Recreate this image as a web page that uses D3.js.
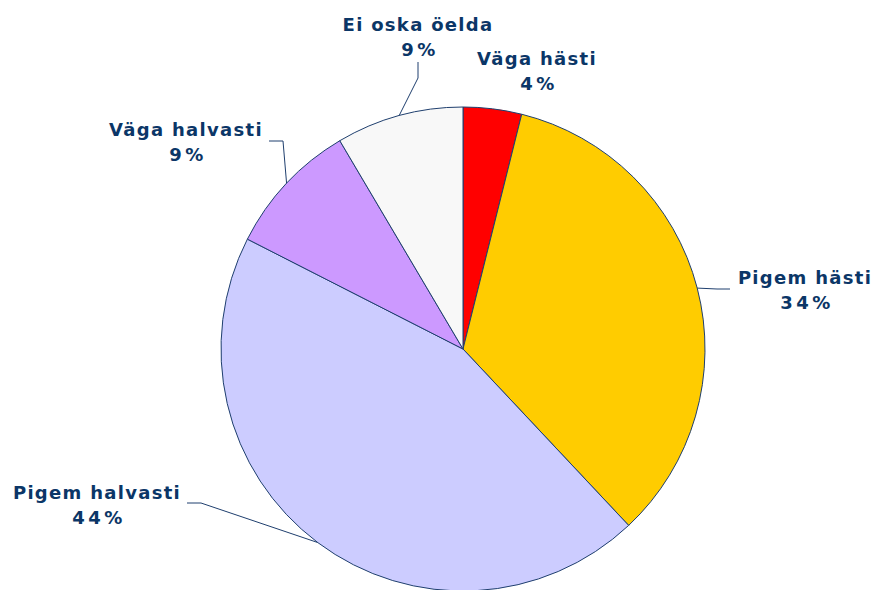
<!DOCTYPE html>
<html>
<head>
<meta charset="utf-8">
<script src="https://cdn.jsdelivr.net/npm/d3@7"></script>
<style>
  body { margin: 0; background: #fff; }
  text { font-family: "DejaVu Sans", Verdana, sans-serif; font-weight: bold; fill: #0B3667; }
</style>
</head>
<body>
<div id="chart"></div>
<script>
// Chart data
var categories = ["Väga hästi", "Pigem hästi", "Pigem halvasti", "Väga halvasti", "Ei oska öelda"];
var values = [3.9, 34.1, 44.5, 9.0, 8.5];
var pctLabels = ["4%", "34%", "44%", "9%", "9%"];
var colors = ["#FF0000", "#FFCC00", "#CCCCFF", "#CC99FF", "#F8F8F8"];

var svgWidth = 873;
var svgHeight = 590;
var cx = 463, cy = 349, radius = 242;

var svg = d3.select("#chart")
  .append("svg")
  .attr("width", svgWidth)
  .attr("height", svgHeight);

var chartGroup = svg.append("g")
  .attr("transform", `translate(${cx}, ${cy})`);

var data = categories.map((c, i) => ({ name: c, value: values[i], pct: pctLabels[i], color: colors[i] }));

var pie = d3.pie().sort(null).value(d => d.value);
var arc = d3.arc().innerRadius(0).outerRadius(radius);
var arcs = pie(data);

chartGroup.selectAll("path.slice")
  .data(arcs)
  .enter()
  .append("path")
  .attr("class", "slice")
  .attr("d", arc)
  .attr("fill", d => d.data.color)
  .attr("stroke", "#1F3F6E")
  .attr("stroke-width", 1);

// label layout relative to pie centre: elbow point, line end, text centre x, first baseline
var labelLayout = [
  { elbow: null, end: null, tx: 74, ty: -284 },
  { elbow: [254, -60], end: [267, -60], tx: 342, ty: -65 },
  { elbow: [-262, 154], end: [-276, 154], tx: -366, ty: 150 },
  { elbow: [-180, -208], end: [-194, -208], tx: -277, ty: -213 },
  { elbow: [-45, -271], end: [-45, -287], tx: -45, ty: -318 }
];

function edgePoint(d) {
  var a = (d.startAngle + d.endAngle) / 2;
  return [Math.sin(a) * radius, -Math.cos(a) * radius];
}

var labels = chartGroup.selectAll("g.label")
  .data(arcs)
  .enter()
  .append("g")
  .attr("class", "label");

labels.filter(d => labelLayout[d.index].elbow)
  .append("polyline")
  .attr("points", d => [edgePoint(d), labelLayout[d.index].elbow, labelLayout[d.index].end].join(" "))
  .attr("fill", "none")
  .attr("stroke", "#1F3F6E")
  .attr("stroke-width", 1);

var txt = labels.append("text")
  .attr("text-anchor", "middle")
  .style("font-size", "18px");

txt.append("tspan")
  .attr("x", d => labelLayout[d.index].tx)
  .attr("y", d => labelLayout[d.index].ty)
  .style("letter-spacing", "1.3px")
  .text(d => d.data.name);

txt.append("tspan")
  .attr("x", d => labelLayout[d.index].tx + 2)
  .attr("y", d => labelLayout[d.index].ty + 25)
  .style("letter-spacing", "3.5px")
  .text(d => d.data.pct);
</script>
</body>
</html>
